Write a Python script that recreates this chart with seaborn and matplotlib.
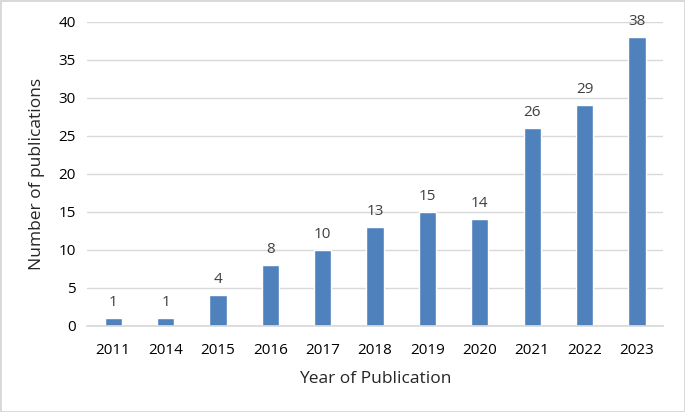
import matplotlib
matplotlib.use("Agg")
import matplotlib.pyplot as plt
import seaborn as sns
import pandas as pd

years = ["2011", "2014", "2015", "2016", "2017", "2018", "2019", "2020", "2021", "2022", "2023"]
counts = [1, 1, 4, 8, 10, 13, 15, 14, 26, 29, 38]

sns.set_theme(style="white")
plt.rcParams['font.family'] = ['Open Sans', 'DejaVu Sans']

df = pd.DataFrame({"year": years, "count": counts})

fig = plt.figure(figsize=(6.85, 4.12), dpi=100)
fig.patch.set_edgecolor("#d9d9d9")
fig.patch.set_linewidth(2)
ax = fig.add_axes([0.127, 0.209, 0.841, 0.738])

sns.barplot(data=df, x="year", y="count", color="#4f81bd", width=0.33, ax=ax, saturation=1)
for c in ax.containers:
    ax.bar_label(c, padding=6, fontsize=11, color="#404040")

ax.set_ylim(0, 40)
ax.set_yticks(range(0, 41, 5))
ax.yaxis.grid(True, color="#d9d9d9", linewidth=1)
ax.set_axisbelow(True)
for s in ["top", "right", "left"]:
    ax.spines[s].set_visible(False)
ax.spines["bottom"].set_color("#d9d9d9")
ax.tick_params(axis="y", length=0, labelsize=11, labelcolor="#000000", pad=8)
ax.tick_params(axis="x", length=0, labelsize=11, labelcolor="#000000", pad=12)
ax.set_xlabel("Year of Publication", fontsize=12.5, labelpad=10)
ax.set_ylabel("Number of publications", fontsize=12.5, labelpad=10)

fig.savefig("out.png", dpi=100, edgecolor=fig.get_edgecolor())
